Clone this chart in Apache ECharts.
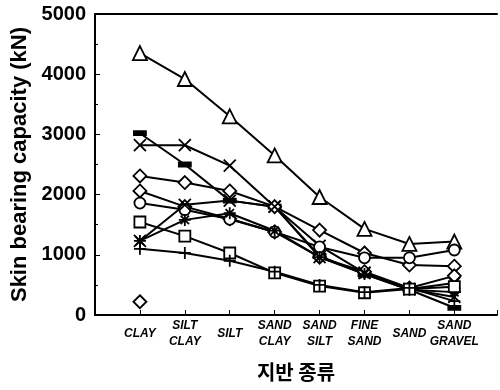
<!DOCTYPE html>
<html><head><meta charset="utf-8">
<script src="https://cdn.jsdelivr.net/npm/echarts@6/dist/echarts.min.js"></script>
<style>html,body{margin:0;padding:0;background:#fff}#c{width:500px;height:390px}</style>
</head><body><div id="c"></div>
<script>
var categories = ['CLAY','SILT\nCLAY','SILT','SAND\nCLAY','SAND\nSILT','FINE\nSAND','SAND','SAND\nGRAVEL'];
var yTicks = [0,1000,2000,3000,4000,5000];
var triangleVals = [4350, 3920, 3300, 2650, 1960, 1430, 1180, 1220];
var dashVals     = [3020, 2500, 1900, 1800, 980, 680, 420, 120];
var crossHiVals  = [2820, 2820, 2480, 1800, 1150, 700, 430, 300];
var diamondAVals = [2310, 2200, 2060, 1800, 1410, 1030, 830, 810];
var diamondBVals = [2060, 1800, 1600, 1380, 960, 720, 450, 650];
var circleVals   = [1860, 1750, 1590, 1380, 1130, 950, 950, 1080];
var asteriskVals = [1230, 1580, 1690, 1400, 960, 680, 420, 380];
var crossLoVals  = [1230, 1830, 1900, 1800, 960, 700, 430, 530];
var squareVals   = [1545, 1310, 1030, 700, 480, 370, 430, 470];
var plusVals     = [1100, 1030, 900, 720, 500, 380, 450, 230];
var outlierVals  = [220];

var SYM = {
  cross: 'path://M0,0L10,10M10,0L0,10',
  plus: 'path://M5,0L5,10M0,5L10,5',
  asterisk: 'path://M5,0L5,10M0,5L10,5M1.5,1.5L8.5,8.5M8.5,1.5L1.5,8.5',
  dash: 'path://M0,0L12,0L12,4L0,4Z'
};
function mk(vals, symbol, size, fill, noLine) {
  return {
    type: 'line',
    data: vals.map(function(v, i){ return [i, v]; }),
    symbol: symbol,
    symbolSize: size,
    symbolKeepAspect: true,
    showAllSymbol: true,
    lineStyle: { color: '#000', width: noLine ? 0 : 2 },
    itemStyle: { color: fill || '#fff', borderColor: '#000', borderWidth: 1.8 },
    emphasis: { disabled: true },
    animation: false
  };
}
var chart = echarts.init(document.getElementById('c'), null, {renderer: 'canvas'});
var FONT = '"Liberation Sans", Arial, Helvetica, sans-serif';
chart.setOption({
  backgroundColor: '#fff',
  animation: false,
  grid: { left: 95, right: 1, top: 14, bottom: 75 },
  xAxis: [{
    type: 'value', min: -1, max: 7.95, interval: 1,
    splitLine: { show: false },
    axisLine: { onZero: false, lineStyle: { color: '#000', width: 2 } },
    axisTick: { inside: true, length: 5, lineStyle: { color: '#000', width: 1 } },
    axisLabel: {
      margin: 19, verticalAlign: 'middle', lineHeight: 16,
      color: '#000', fontFamily: FONT, fontSize: 12, fontWeight: 'bold', fontStyle: 'italic',
      formatter: function(v){ return (Number.isInteger(v) && v >= 0 && categories[v]) ? categories[v] : ''; }
    },
    name: '지반 종류', nameLocation: 'middle', nameGap: 47,
    nameTextStyle: { color: '#000', fontFamily: '"Noto Sans CJK KR", sans-serif', fontSize: 20, fontWeight: 'bold', verticalAlign: 'top' }
  }, {
    type: 'value', position: 'top', min: -1, max: 7.95,
    splitLine: { show: false },
    axisLine: { show: true, onZero: false, lineStyle: { color: '#000', width: 2 } },
    axisTick: { show: false }, axisLabel: { show: false }
  }],
  yAxis: {
    type: 'value', min: 0, max: 5000, interval: 1000,
    splitLine: { show: false },
    axisLine: { show: true, onZero: false, lineStyle: { color: '#000', width: 2 } },
    axisTick: { show: true, inside: true, length: 5, lineStyle: { color: '#000' } },
    minorTick: { show: true, splitNumber: 2, length: 3, lineStyle: { color: '#000' } },
    axisLabel: { margin: 9, color: '#000', fontFamily: FONT, fontSize: 20, fontWeight: 'bold',
      formatter: function(v){ return yTicks.indexOf(v) >= 0 ? String(v) : ''; } },
    name: 'Skin bearing capacity (kN)', nameLocation: 'middle', nameGap: 56,
    nameTextStyle: { color: '#000', fontFamily: FONT, fontSize: 22, fontWeight: 'bold' }
  },
  series: [
    mk(triangleVals, 'triangle', 14),
    mk(dashVals, SYM.dash, 12, '#000'),
    mk(crossHiVals, SYM.cross, 12),
    mk(diamondAVals, 'diamond', 13),
    mk(diamondBVals, 'diamond', 13),
    mk(circleVals, 'circle', 11),
    mk(asteriskVals, SYM.asterisk, 12),
    mk(crossLoVals, SYM.cross, 12),
    mk(squareVals, 'rect', 11),
    mk(plusVals, SYM.plus, 12),
    mk(outlierVals, 'diamond', 13, '#fff', true)
  ]
});
</script></body></html>
